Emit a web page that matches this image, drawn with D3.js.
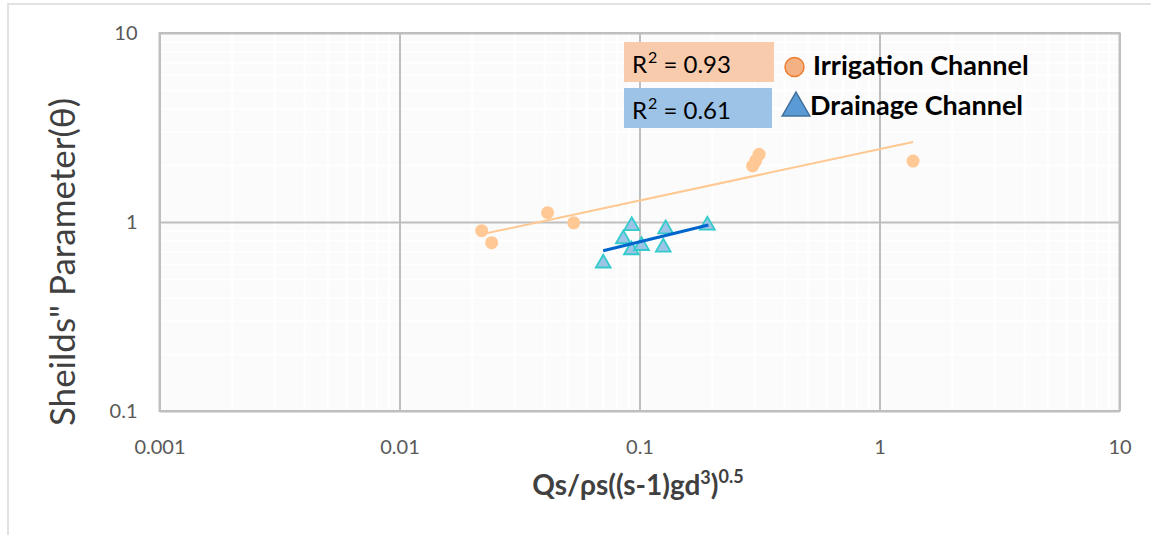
<!DOCTYPE html>
<html>
<head>
<meta charset="utf-8">
<script src="https://cdn.jsdelivr.net/npm/d3@7/dist/d3.min.js"></script>
<style>
  body { margin: 0; background: #fff; }
  svg { display: block; font-family: Lato, "Open Sans", sans-serif; }
</style>
</head>
<body>
<svg id="chart" width="1151" height="535"></svg>
<script>
// values
const irrigationX = [0.022, 0.0242, 0.0414, 0.0532, 0.296, 0.305, 0.315, 1.38];
const irrigationY = [0.90, 0.777, 1.12, 0.99, 1.98, 2.11, 2.28, 2.10];
const drainageX = [0.0928, 0.0856, 0.0925, 0.102, 0.0706, 0.1285, 0.1256, 0.1917];
const drainageY = [0.955, 0.813, 0.711, 0.749, 0.605, 0.918, 0.735, 0.96];
// trend line ends (power fits, straight on log-log)
const irrigationTrendX = [0.022, 1.38];
const irrigationTrendY = [0.861, 2.65];
const drainageTrendX = [0.0706, 0.1937];
const drainageTrendY = [0.705, 0.964];
const xTicks = [0.001, 0.01, 0.1, 1, 10];
const xTickLabels = ["0.001", "0.01", "0.1", "1", "10"];
const yTicks = [0.1, 1, 10];
const yTickLabels = ["0.1", "1", "10"];
const seriesNames = ["Irrigation Channel", "Drainage Channel"];
const r2Labels = ["0.93", "0.61"];

const svg = d3.select('#chart');

const plotL = 159.5, plotR = 1119.5, plotT = 33, plotB = 411;

const x = d3.scaleLog().domain([0.001, 10]).range([plotL, plotR]);
const y = d3.scaleLog().domain([0.1, 10]).range([plotB, plotT]);

// outer chart frame
svg.append('rect')
    .attr('x', 8).attr('y', 4)
    .attr('width', 1170).attr('height', 560)
    .attr('fill', 'none')
    .attr('stroke', '#d9d9d9')
    .attr('stroke-width', 1.5);

// plot background
svg.append('rect')
    .attr('x', plotL).attr('y', plotT)
    .attr('width', plotR - plotL).attr('height', plotB - plotT)
    .attr('fill', '#fbfbfb');

// minor grid (very faint, white)
const minorX = [];
const minorY = [];
for (let e = -3; e < 1; e++) for (let m = 2; m < 10; m++) minorX.push(m * Math.pow(10, e));
for (let e = -1; e < 1; e++) for (let m = 2; m < 10; m++) minorY.push(m * Math.pow(10, e));

svg.append('g')
    .attr('transform', `translate(0, ${plotB})`)
    .call(d3.axisBottom(x).tickValues(minorX).tickSize(-(plotB - plotT)).tickFormat(''))
    .call(g => g.select('.domain').remove())
    .call(g => g.selectAll('line').attr('stroke', '#ffffff').attr('stroke-width', 2));

svg.append('g')
    .attr('transform', `translate(${plotL}, 0)`)
    .call(d3.axisLeft(y).tickValues(minorY).tickSize(-(plotR - plotL)).tickFormat(''))
    .call(g => g.select('.domain').remove())
    .call(g => g.selectAll('line').attr('stroke', '#ffffff').attr('stroke-width', 2));

// major grid
svg.append('g')
    .attr('transform', `translate(0, ${plotB})`)
    .call(d3.axisBottom(x).tickValues(xTicks).tickSize(-(plotB - plotT)).tickFormat(''))
    .call(g => g.select('.domain').remove())
    .call(g => g.selectAll('line').attr('stroke', '#bfbfbf').attr('stroke-width', 2));

svg.append('g')
    .attr('transform', `translate(${plotL}, 0)`)
    .call(d3.axisLeft(y).tickValues(yTicks).tickSize(-(plotR - plotL)).tickFormat(''))
    .call(g => g.select('.domain').remove())
    .call(g => g.selectAll('line').attr('stroke', '#bfbfbf').attr('stroke-width', 2));

svg.append('rect')
    .attr('x', plotL).attr('y', plotT)
    .attr('width', plotR - plotL).attr('height', plotB - plotT)
    .attr('fill', 'none')
    .attr('stroke', '#bfbfbf')
    .attr('stroke-width', 2);

// tick labels
svg.append('g')
    .attr('transform', `translate(0, ${plotB})`)
    .call(d3.axisBottom(x).tickValues(xTicks).tickSize(0).tickPadding(29)
        .tickFormat((d, i) => xTickLabels[i]))
    .call(g => g.select('.domain').remove())
    .call(g => g.selectAll('text')
        .attr('fill', '#595959')
        .style('font-size', '20px')
        .style('font-family', 'Lato, sans-serif'));

svg.append('g')
    .attr('transform', `translate(${plotL}, 0)`)
    .call(d3.axisLeft(y).tickValues(yTicks).tickSize(0).tickPadding(22)
        .tickFormat((d, i) => yTickLabels[i]))
    .call(g => g.select('.domain').remove())
    .call(g => g.selectAll('text')
        .attr('fill', '#595959')
        .style('font-size', '20px')
        .style('font-family', 'Lato, sans-serif'));

// trend lines
const line = d3.line().x(d => x(d[0])).y(d => y(d[1]));

svg.append('path')
    .datum(d3.zip(irrigationTrendX, irrigationTrendY))
    .attr('d', line)
    .attr('fill', 'none')
    .attr('stroke', '#ffc891')
    .attr('stroke-width', 2);

// irrigation points
svg.append('g')
    .selectAll('circle')
    .data(d3.zip(irrigationX, irrigationY))
    .join('circle')
    .attr('cx', d => x(d[0]))
    .attr('cy', d => y(d[1]))
    .attr('r', 6.5)
    .attr('fill', '#ffc894');

// drainage points
const tri = d3.symbol().type(d3.symbolTriangle).size(95);
svg.append('g')
    .selectAll('path')
    .data(d3.zip(drainageX, drainageY))
    .join('path')
    .attr('transform', d => `translate(${x(d[0])}, ${y(d[1])})`)
    .attr('d', tri)
    .attr('fill', '#9dc3e6')
    .attr('stroke', '#33cccc')
    .attr('stroke-width', 1.8);

svg.append('path')
    .datum(d3.zip(drainageTrendX, drainageTrendY))
    .attr('d', line)
    .attr('fill', 'none')
    .attr('stroke', '#0066cc')
    .attr('stroke-width', 3);

// R² boxes
const boxFill = ['#f8cbad', '#9dc3e6'];
const boxY = [42, 88];
r2Labels.forEach((v, i) => {
    svg.append('rect')
        .attr('x', 624).attr('y', boxY[i])
        .attr('width', i === 0 ? 150 : 148).attr('height', 40)
        .attr('fill', boxFill[i]);
    const t = svg.append('text')
        .attr('x', 632).attr('y', boxY[i] + 31)
        .attr('fill', '#000')
        .style('font-size', '24px');
    t.append('tspan').text('R');
    t.append('tspan').text('2').attr('dx', 1).attr('dy', -10).style('font-size', '16px');
    t.append('tspan').text(' = ' + v).attr('dy', 10);
});

// legend
svg.append('circle')
    .attr('cx', 794.5).attr('cy', 67).attr('r', 9.5)
    .attr('fill', '#f4b183')
    .attr('stroke', '#ed7d31')
    .attr('stroke-width', 1.5);

svg.append('path')
    .attr('transform', 'translate(796, 108)')
    .attr('d', d3.symbol().type(d3.symbolTriangle).size(330))
    .attr('fill', '#5b9bd5')
    .attr('stroke', '#41719c')
    .attr('stroke-width', 1.5);

const legY = [75, 115];
const legX = [813, 810];
seriesNames.forEach((n, i) => {
    svg.append('text')
        .attr('x', legX[i]).attr('y', legY[i])
        .attr('fill', '#000')
        .style('font-size', '27px')
        .style('font-weight', 'bold')
        .text(n);
});

// axis titles
svg.append('text')
    .attr('transform', 'translate(75, 262) rotate(-90)')
    .attr('text-anchor', 'middle')
    .attr('fill', '#404040')
    .style('font-size', '35px')
    .text('Sheilds" Parameter(θ)');

const xt = svg.append('text')
    .attr('x', 638).attr('y', 495)
    .attr('text-anchor', 'middle')
    .attr('fill', '#404040')
    .style('font-size', '28px')
    .style('font-weight', 'bold');
xt.append('tspan').text('Qs/ρs((s-1)gd');
xt.append('tspan').text('3').attr('dy', -11).style('font-size', '18px');
xt.append('tspan').text(')').attr('dy', 11);
xt.append('tspan').text('0.5').attr('dy', -12).style('font-size', '18px');
</script>
</body>
</html>
